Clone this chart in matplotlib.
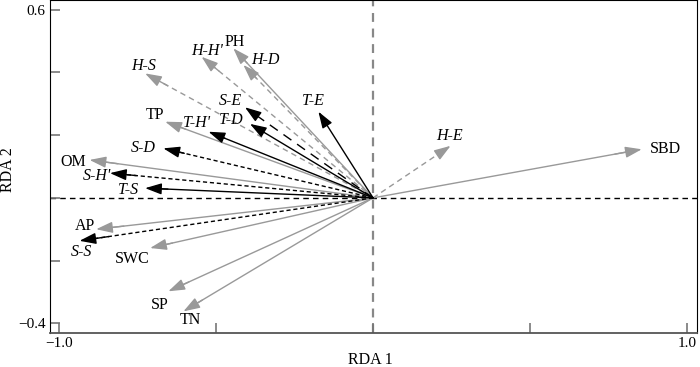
import matplotlib
matplotlib.use("Agg")
import matplotlib.pyplot as plt

plt.rcParams['font.family'] = ['Liberation Serif', 'DejaVu Serif']

# --- 土壌因子 (灰色実線) ---
soil_names = ["SBD", "PH", "TP", "OM", "AP", "SWC", "SP", "TN"]
soil_x = [0.856, -0.445, -0.662, -0.903, -0.882, -0.710, -0.652, -0.604]
soil_y = [0.155, 0.477, 0.243, 0.121, -0.100, -0.160, -0.298, -0.362]

# --- 草本層 H (灰色破線) ---
h_names = ["H-E", "H-D", "H-H'", "H-S"]
h_x = [0.247, -0.413, -0.546, -0.726]
h_y = [0.166, 0.424, 0.450, 0.397]

# --- 低木層 S (黒破線) ---
s_names = ["S-E", "S-D", "S-H'", "S-S"]
s_x = [-0.408, -0.668, -0.838, -0.935]
s_y = [0.289, 0.158, 0.079, -0.137]

# --- 高木層 T (黒実線) ---
t_names = ["T-E", "T-D", "T-H'", "T-S"]
t_x = [-0.174, -0.392, -0.524, -0.726]
t_y = [0.275, 0.236, 0.211, 0.031]

# ラベル位置
label_pos = {
    "SBD": (0.930, 0.156), "PH": (-0.440, 0.498), "TP": (-0.694, 0.264),
    "OM": (-0.954, 0.116), "AP": (-0.917, -0.091), "SWC": (-0.768, -0.195),
    "SP": (-0.680, -0.341), "TN": (-0.583, -0.389),
    "H-E": (0.245, 0.197), "H-D": (-0.344, 0.440), "H-H'": (-0.530, 0.468),
    "H-S": (-0.731, 0.420),
    "S-E": (-0.455, 0.309), "S-D": (-0.731, 0.158), "S-H'": (-0.880, 0.070),
    "S-S": (-0.928, -0.174),
    "T-E": (-0.191, 0.309), "T-D": (-0.450, 0.250), "T-H'": (-0.561, 0.240),
    "T-S": (-0.779, 0.025),
}

GREY = "#999999"

fig = plt.figure(figsize=(7.0, 3.67), dpi=100)
ax = fig.add_axes([50 / 700, 1 - 333 / 367, 647 / 700, 333 / 367 - 0.001])

ax.axhline(0, color="black", lw=1.0, dashes=(4, 3), zorder=1)
ax.axvline(0, color="#888888", lw=1.6, dashes=(4, 3), zorder=1)


def draw_arrow(x, y, color, ls, lw):
    # 線 + 矢じり
    ax.plot([0, x * 0.97], [0, y * 0.97], color=color, lw=lw, linestyle=ls, zorder=2)
    ax.annotate("", xy=(x, y), xytext=(x * 0.9, y * 0.9),
                arrowprops=dict(arrowstyle="-|>,head_length=1.0,head_width=0.34",
                                color=color, lw=lw, shrinkA=0, shrinkB=0,
                                mutation_scale=10),
                zorder=3)


for n, x, y in zip(soil_names, soil_x, soil_y):
    draw_arrow(x, y, GREY, "-", 1.0)
    ax.text(*label_pos[n], n, ha="center", va="center", fontsize=11.5)

for n, x, y in zip(h_names, h_x, h_y):
    draw_arrow(x, y, GREY, (0, (4, 3)), 1.0)
    ax.text(*label_pos[n], n, ha="center", va="center", fontsize=11.5, style="italic")

for n, x, y in zip(s_names, s_x, s_y):
    ls = (0, (7, 5)) if n == "S-E" else (0, (3, 2))
    draw_arrow(x, y, "black", ls, 1.0)
    ax.text(*label_pos[n], n, ha="center", va="center", fontsize=11.5, style="italic")

for n, x, y in zip(t_names, t_x, t_y):
    draw_arrow(x, y, "black", "-", 1.0)
    ax.text(*label_pos[n], n, ha="center", va="center", fontsize=11.5, style="italic")

ax.set_xlim(-1.029, 1.032)
ax.set_ylim(-0.431, 0.63)

ax.set_xticks([-1.0, -0.5, 0.0, 0.5, 1.0])
ax.set_xticklabels(["\u22121.0", "", "", "", "1.0"])
ax.set_yticks([-0.4, -0.2, 0.0, 0.2, 0.4, 0.6])
ax.set_yticklabels(["\u22120.4", "", "", "", "", "0.6"])
ax.tick_params(direction="in", length=7, width=1.2, color="#777777",
               labelsize=11, pad=3)

for s in ["top", "left", "right"]:
    ax.spines[s].set_color("black")
ax.spines["bottom"].set_color("#555555")
ax.spines["bottom"].set_linewidth(1.3)

ax.set_xlabel("RDA 1", fontsize=11.5)
ax.set_ylabel("RDA 2", fontsize=11.5)
ax.xaxis.set_label_coords(0.495, -0.058)
ax.yaxis.set_label_coords(-0.052, 0.49)

plt.savefig("out.png", dpi=100)
